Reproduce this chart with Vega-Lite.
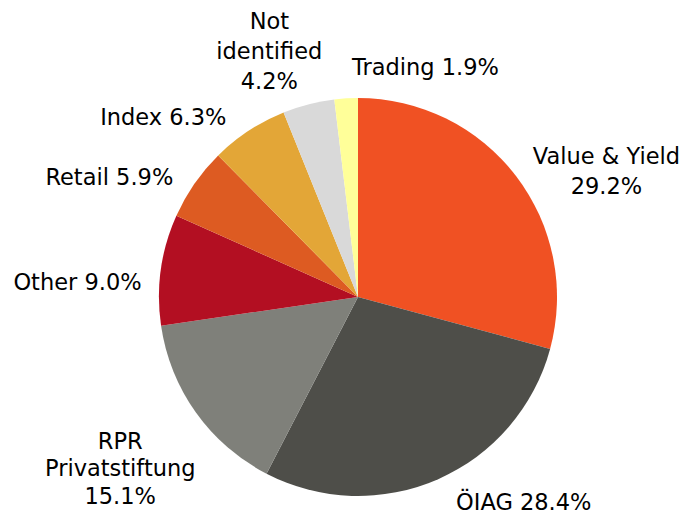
{
  "$schema": "https://vega.github.io/schema/vega-lite/v6.json",
  "width": 660,
  "height": 438,
  "autosize": {"type": "none"},
  "padding": {"left": 28, "top": 78, "right": 0, "bottom": 0},
  "background": "white",
  "view": {"stroke": null},
  "data": {
    "values": [
      {"order": 1, "name": "Value & Yield", "share": 29.2, "label": "Value & Yield\n29.2%"},
      {"order": 2, "name": "ÖIAG", "share": 28.4, "label": "ÖIAG 28.4%"},
      {"order": 3, "name": "RPR Privatstiftung", "share": 15.1, "label": "RPR\nPrivatstiftung\n15.1%"},
      {"order": 4, "name": "Other", "share": 9.0, "label": "Other 9.0%"},
      {"order": 5, "name": "Retail", "share": 5.9, "label": "Retail 5.9%"},
      {"order": 6, "name": "Index", "share": 6.3, "label": "Index 6.3%"},
      {"order": 7, "name": "Not identified", "share": 4.2, "label": "Not\nidentified\n4.2%"},
      {"order": 8, "name": "Trading", "share": 1.9, "label": "Trading 1.9%"}
    ]
  },
  "encoding": {
    "theta": {"field": "share", "type": "quantitative", "stack": true},
    "order": {"field": "order", "type": "quantitative"}
  },
  "layer": [
    {
      "mark": {"type": "arc", "radius": 199},
      "encoding": {
        "color": {
          "field": "name",
          "type": "nominal",
          "scale": {
            "domain": ["Value & Yield", "ÖIAG", "RPR Privatstiftung", "Other", "Retail", "Index", "Not identified", "Trading"],
            "range": ["#F05123", "#4E4E49", "#7F807A", "#B30F22", "#DD5B22", "#E3A637", "#D9D9D9", "#FFFF99"]
          },
          "legend": null
        }
      }
    },
    {
      "mark": {"type": "text", "radius": 260, "dx": 42, "dy": 18, "fontSize": 22.5, "font": "DejaVu Sans", "lineBreak": "\n", "lineHeight": 30, "align": "center", "baseline": "middle", "color": "black"},
      "encoding": {"text": {"condition": {"test": "datum.name === 'Value & Yield'", "field": "label"}, "value": ""}}
    },
    {
      "mark": {"type": "text", "radius": 260, "dx": 61, "dy": -32, "fontSize": 22.5, "font": "DejaVu Sans", "lineBreak": "\n", "lineHeight": 30, "align": "center", "baseline": "middle", "color": "black"},
      "encoding": {"text": {"condition": {"test": "datum.name === 'ÖIAG'", "field": "label"}, "value": ""}}
    },
    {
      "mark": {"type": "text", "radius": 260, "dx": -26, "dy": -6, "fontSize": 22.5, "font": "DejaVu Sans", "lineBreak": "\n", "lineHeight": 27.5, "align": "center", "baseline": "middle", "color": "black"},
      "encoding": {"text": {"condition": {"test": "datum.name === 'RPR Privatstiftung'", "field": "label"}, "value": ""}}
    },
    {
      "mark": {"type": "text", "radius": 260, "dx": -23, "dy": 22, "fontSize": 22.5, "font": "DejaVu Sans", "lineBreak": "\n", "lineHeight": 30, "align": "center", "baseline": "middle", "color": "black"},
      "encoding": {"text": {"condition": {"test": "datum.name === 'Other'", "field": "label"}, "value": ""}}
    },
    {
      "mark": {"type": "text", "radius": 260, "dx": -35, "dy": 29, "fontSize": 22.5, "font": "DejaVu Sans", "lineBreak": "\n", "lineHeight": 30, "align": "center", "baseline": "middle", "color": "black"},
      "encoding": {"text": {"condition": {"test": "datum.name === 'Retail'", "field": "label"}, "value": ""}}
    },
    {
      "mark": {"type": "text", "radius": 260, "dx": -52, "dy": 38, "fontSize": 22.5, "font": "DejaVu Sans", "lineBreak": "\n", "lineHeight": 30, "align": "center", "baseline": "middle", "color": "black"},
      "encoding": {"text": {"condition": {"test": "datum.name === 'Index'", "field": "label"}, "value": ""}}
    },
    {
      "mark": {"type": "text", "radius": 260, "dx": -24, "dy": -23, "fontSize": 22.5, "font": "DejaVu Sans", "lineBreak": "\n", "lineHeight": 30, "align": "center", "baseline": "middle", "color": "black"},
      "encoding": {"text": {"condition": {"test": "datum.name === 'Not identified'", "field": "label"}, "value": ""}}
    },
    {
      "mark": {"type": "text", "radius": 260, "dx": 83, "dy": 31, "fontSize": 22.5, "font": "DejaVu Sans", "lineBreak": "\n", "lineHeight": 30, "align": "center", "baseline": "middle", "color": "black"},
      "encoding": {"text": {"condition": {"test": "datum.name === 'Trading'", "field": "label"}, "value": ""}}
    }
  ]
}
